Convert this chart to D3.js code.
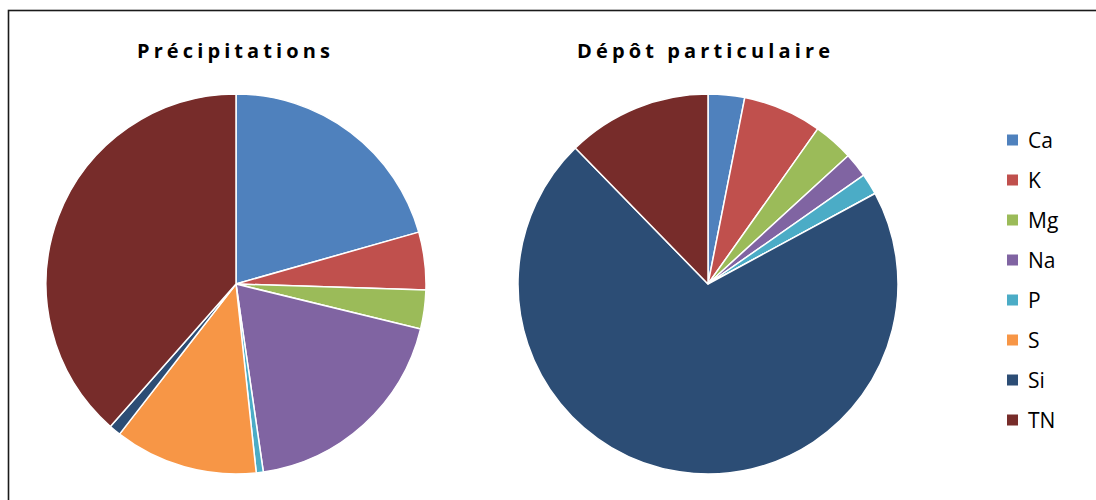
<!DOCTYPE html>
<html>
<head>
<meta charset="utf-8">
<script src="https://cdn.jsdelivr.net/npm/d3@7"></script>
<style>
  html, body { margin: 0; padding: 0; background: #fff; }
  svg { display: block; }
</style>
</head>
<body>
<svg id="chart" width="1096" height="500"></svg>
<script>
const categories = ["Ca", "K", "Mg", "Na", "P", "S", "Si", "TN"];
const colors = ["#4F81BD", "#C0504D", "#9BBB59", "#8064A2", "#4BACC6", "#F79646", "#2C4D75", "#772C2A"];
const titles = ["Précipitations", "Dépôt particulaire"];
const precipitations = [20.6, 4.9, 3.3, 18.9, 0.6, 12.2, 1.0, 38.5];
const depotParticulaire = [3.1, 6.7, 3.4, 2.1, 1.8, 0.0, 70.6, 12.3];

const svg = d3.select("#chart");

// outer frame
svg.append("rect")
  .attr("x", 8.5).attr("y", 10.5)
  .attr("width", 1200).attr("height", 600)
  .attr("fill", "none").attr("stroke", "#1a1a1a").attr("stroke-width", 1.6);

const pie = d3.pie().sort(null).value(d => d.v);
const arc = d3.arc().innerRadius(0).outerRadius(190);

const panels = [
  { title: titles[0], values: precipitations, cx: 236, cy: 284, tx: 233.5, tw: 193 },
  { title: titles[1], values: depotParticulaire, cx: 708, cy: 284, tx: 703.5, tw: 253 }
];

panels.forEach(p => {
  const data = categories.map((c, i) => ({ c, v: p.values[i], color: colors[i] }));
  const g = svg.append("g").attr("transform", `translate(${p.cx},${p.cy})`);
  g.selectAll("path")
    .data(pie(data))
    .join("path")
    .attr("d", arc)
    .attr("fill", d => d.data.color)
    .attr("stroke", "#fff")
    .attr("stroke-width", 1.5)
    .attr("stroke-linejoin", "round");

  svg.append("text")
    .attr("x", p.tx).attr("y", 58)
    .attr("text-anchor", "middle")
    .attr("font-family", "'Open Sans', 'Liberation Sans', sans-serif")
    .attr("font-weight", 700)
    .attr("font-size", 20)
    .attr("textLength", p.tw)
    .attr("lengthAdjust", "spacing")
    .attr("fill", "#000")
    .text(p.title);
});

// legend
const legendY = d3.scalePoint().domain(categories).range([140, 420]);
const lg = svg.append("g");
const items = lg.selectAll("g").data(categories).join("g")
  .attr("transform", d => `translate(1007,${legendY(d)})`);
items.append("rect")
  .attr("x", 0).attr("y", -5.5).attr("width", 11).attr("height", 11)
  .attr("fill", (d, i) => colors[i]);
items.append("text")
  .attr("x", 21).attr("y", 0).attr("dy", "0.36em")
  .attr("font-family", "'Open Sans', 'Liberation Sans', sans-serif")
  .attr("font-size", 21)
  .attr("fill", "#000")
  .text(d => d);
</script>
</body>
</html>
